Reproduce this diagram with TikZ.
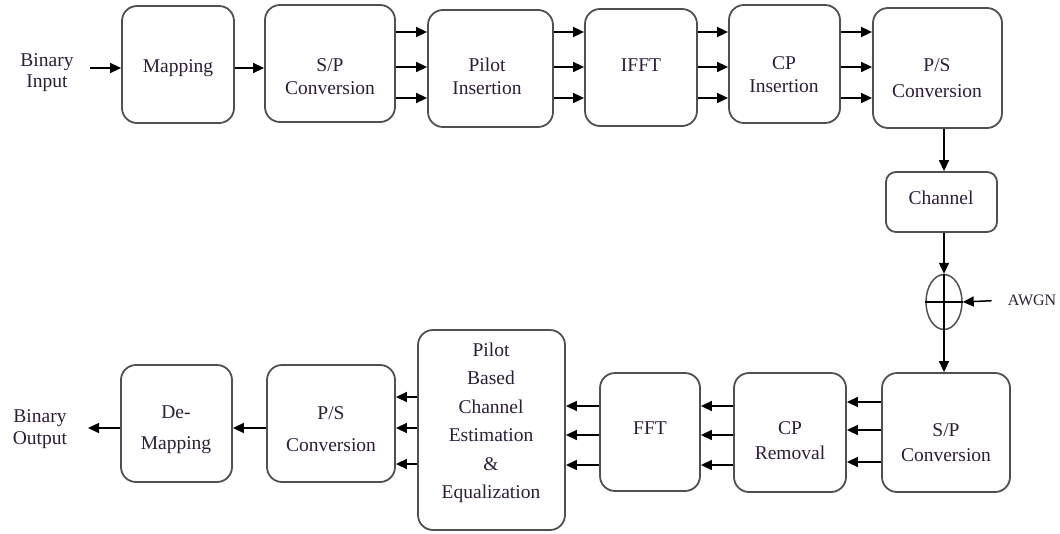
\documentclass[tikz,border=0pt]{standalone}
\usepackage{fontspec}
\setmainfont{Liberation Serif}
\usetikzlibrary{arrows.meta,shapes.geometric}

\definecolor{txtcol}{RGB}{45,30,55}
\definecolor{boxcol}{RGB}{80,80,80}

\tikzset{
  blk/.style={draw=boxcol, line width=1.8pt, rounded corners=15pt, inner sep=0pt},
  txt/.style={text=txtcol, align=center, inner sep=0pt, font=\fontsize{19.5}{23}\selectfont},
  sig/.style={->, line width=1.5pt},
}

\begin{document}
\begin{tikzpicture}[x=1pt, y=-1pt, >={Triangle[length=11pt,width=10pt]}]
  \useasboundingbox (0,0) rectangle (1060,533);

  % Transmitter blocks (top row)
  \node[blk, minimum width=112pt, minimum height=117pt] (map)   at (178,64.5) {};
  \node[blk, minimum width=130pt, minimum height=117pt] (sp)    at (330,63.5) {};
  \node[blk, minimum width=125pt, minimum height=117pt] (pilot) at (490.5,68.5) {};
  \node[blk, minimum width=112pt, minimum height=117pt] (ifft)  at (641,67.5) {};
  \node[blk, minimum width=111pt, minimum height=118pt] (cpins) at (784.5,64) {};
  \node[blk, minimum width=129pt, minimum height=120pt] (ps)    at (937.5,68) {};

  % Channel and noise
  \node[blk, rounded corners=10pt, minimum width=111pt, minimum height=60pt] (channel) at (941.5,202) {};
  \node[draw=boxcol, line width=1.5pt, ellipse, minimum width=36pt, minimum height=55pt, inner sep=0pt] (adder) at (944,302) {};

  % Receiver blocks (bottom row)
  \node[blk, minimum width=128pt, minimum height=119pt] (sp2)   at (946,432.5) {};
  \node[blk, minimum width=112pt, minimum height=119pt] (cprem) at (790,432.5) {};
  \node[blk, minimum width=100pt, minimum height=118pt] (fft)   at (650,432) {};
  \node[blk, minimum width=147pt, minimum height=200pt] (est)   at (491.5,430) {};
  \node[blk, minimum width=128pt, minimum height=117pt] (ps2)   at (331,423.5) {};
  \node[blk, minimum width=111pt, minimum height=117pt] (demap) at (176.5,423.5) {};

  % Texts
  \node[txt, font=\fontsize{19.5}{21}\selectfont] (bin)  at (47,72.5) {Binary\\Input};
  \node[txt] (mapt)   at (178,68)    {Mapping};
  \node[txt] (spt)    at (330,76.5)  {S/P\\Conversion};
  \node[txt] (pilott) at (487,76.5)  {Pilot\\Insertion};
  \node[txt] (ifftt)  at (641,65)    {IFFT};
  \node[txt] (cpinst) at (784,75)    {CP\\Insertion};
  \node[txt, font=\fontsize{19.5}{26}\selectfont] (pst) at (937,78.5) {P/S\\Conversion};
  \node[txt] (chant)  at (941,198)   {Channel};
  \node[txt, font=\fontsize{16}{19}\selectfont] (awgn) at (1032,300) {AWGN};
  \node[txt, font=\fontsize{19.5}{25}\selectfont] (sp2t) at (946,442.5) {S/P\\Conversion};
  \node[txt, font=\fontsize{19.5}{25}\selectfont] (cpremt) at (790,440.5) {CP\\Removal};
  \node[txt] (fftt)   at (650,428)   {FFT};
  \node[txt, font=\fontsize{19.5}{28.5}\selectfont] (estt) at (491,423) {Pilot\\Based\\Channel\\Estimation\\\&\\Equalization};
  \node[txt, font=\fontsize{19.5}{32}\selectfont] (ps2t) at (331,429) {P/S\\Conversion};
  \node[txt, font=\fontsize{19.5}{31}\selectfont] (demapt) at (176,429.5) {De-\\Mapping};
  \node[txt, font=\fontsize{19.5}{22}\selectfont] (bout) at (40,429) {Binary\\Output};

  % Top row connectors
  \draw[sig] (90,68) -- (map.west |- 0,68);
  \draw[sig] (map.east |- 0,68) -- (sp.west |- 0,68);
  \foreach \y in {32,67,98} {
    \draw[sig] (sp.east |- 0,\y) -- (pilot.west |- 0,\y);
    \draw[sig] (pilot.east |- 0,\y) -- (ifft.west |- 0,\y);
    \draw[sig] (ifft.east |- 0,\y) -- (cpins.west |- 0,\y);
    \draw[sig] (cpins.east |- 0,\y) -- (ps.west |- 0,\y);
  }

  % Down through channel and noise adder
  \draw[sig] (ps.south -| adder) -- (channel.north -| adder);
  \draw[sig] (channel.south -| adder) -- (adder.north);
  \draw[line width=1.5pt] (adder.north) -- (adder.south);
  \draw[line width=1.5pt] (adder.west) -- (adder.east);
  \draw[sig] (adder.south) -- (sp2.north -| adder);
  \draw[sig, shorten <=16pt] (awgn.west) -- (adder.east);

  % Bottom row connectors
  \foreach \y in {402,430,462}
    \draw[sig] (sp2.west |- 0,\y) -- (cprem.east |- 0,\y);
  \foreach \y in {406,435,465} {
    \draw[sig] (cprem.west |- 0,\y) -- (fft.east |- 0,\y);
    \draw[sig] (fft.west |- 0,\y) -- (est.east |- 0,\y);
  }
  \foreach \y in {397,428,464}
    \draw[sig] (est.west |- 0,\y) -- (ps2.east |- 0,\y);
  \draw[sig] (ps2.west |- 0,428) -- (demap.east |- 0,428);
  \draw[sig] (demap.west |- 0,428) -- (88,428);
\end{tikzpicture}
\end{document}
